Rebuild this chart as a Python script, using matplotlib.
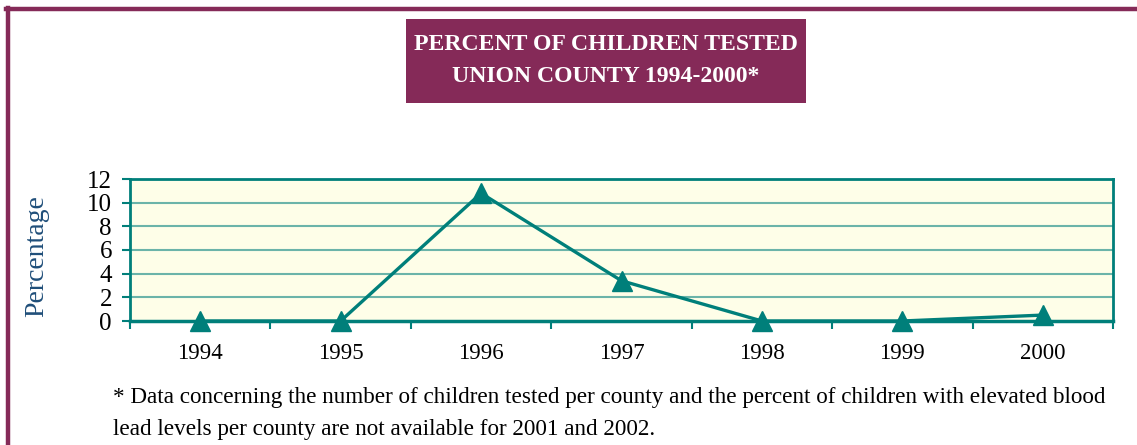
import matplotlib.pyplot as plt
from matplotlib.patches import Rectangle
from matplotlib.lines import Line2D

years = ["1994", "1995", "1996", "1997", "1998", "1999", "2000"]
percent = [0.0, 0.0, 10.8, 3.4, 0.0, 0.0, 0.5]
y_ticks = [0, 2, 4, 6, 8, 10, 12]

teal = "#007F7A"
grid_teal = "#6BB4A9"
plum = "#852A58"

plt.rcParams["font.family"] = ["Liberation Serif", "DejaVu Serif"]

W, H = 1137, 445
fig = plt.figure(figsize=(W / 100, H / 100), dpi=100)

# page frame (left and top rules)
fig.add_artist(Line2D([8 / W, 8 / W], [0, 1 - 8 / H], color=plum, lw=3.2,
                      transform=fig.transFigure))
fig.add_artist(Line2D([6 / W, 1], [1 - 8.5 / H, 1 - 8.5 / H], color=plum, lw=3.2,
                      transform=fig.transFigure))

# title banner
bx0, by0, bx1, by1 = 406, 19, 806, 103
fig.add_artist(Rectangle((bx0 / W, 1 - by1 / H), (bx1 - bx0) / W, (by1 - by0) / H,
                         facecolor=plum, edgecolor="none", transform=fig.transFigure))
fig.text((bx0 + bx1) / 2 / W, 1 - 44 / H, "PERCENT OF CHILDREN TESTED",
         color="white", fontsize=17.1, fontweight="bold", ha="center", va="center")
fig.text((bx0 + bx1) / 2 / W, 1 - 76 / H, "UNION COUNTY 1994-2000*",
         color="white", fontsize=17.1, fontweight="bold", ha="center", va="center")

# plot area
px0, py0, px1, py1 = 130, 179, 1113, 321
ax = fig.add_axes([px0 / W, 1 - py1 / H, (px1 - px0) / W, (py1 - py0) / H])
ax.set_facecolor("#FEFEE8")
x = list(range(len(years)))
ax.plot(x, percent, color=teal, lw=2.4, marker="^", markersize=15,
        markerfacecolor=teal, markeredgecolor=teal, clip_on=False, zorder=5)
ax.set_xlim(-0.5, len(years) - 0.5)
ax.set_ylim(0, 12)
ax.set_yticks(y_ticks)
ax.set_yticklabels([str(v) for v in y_ticks], fontsize=18)
ax.set_xticks(x)
ax.set_xticklabels(years, fontsize=16.5)
ax.set_xticks([i - 0.5 for i in range(len(years) + 1)], minor=True)
ax.tick_params(axis="x", which="major", length=0, pad=16)
ax.tick_params(axis="x", which="minor", length=6, width=1.5, color=teal)
ax.tick_params(axis="y", length=6, width=1.5, color=teal, pad=7)
for yv in y_ticks[1:-1]:
    ax.axhline(yv, color=grid_teal, lw=1.5, zorder=1)
for side in ["left", "top", "right"]:
    ax.spines[side].set_color(teal)
    ax.spines[side].set_linewidth(2)
ax.spines["bottom"].set_color(teal)
ax.spines["bottom"].set_linewidth(2.5)

fig.text(37 / W, 1 - 256 / H, "Percentage", color="#1F4E79", fontsize=20,
         rotation=90, ha="center", va="center")

fig.text(113 / W, 1 - 398 / H,
         "* Data concerning the number of children tested per county and the percent of children with elevated blood",
         fontsize=16.7, ha="left", va="center")
fig.text(113 / W, 1 - 429 / H,
         "lead levels per county are not available for 2001 and 2002.",
         fontsize=16.7, ha="left", va="center")

fig.savefig("out.png", dpi=100)
